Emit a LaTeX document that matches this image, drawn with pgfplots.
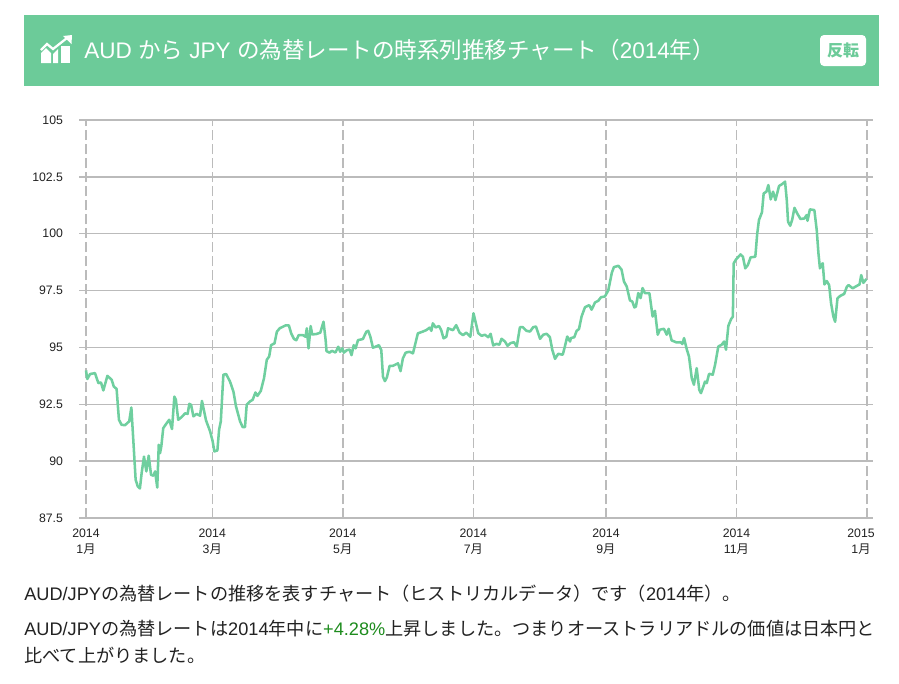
\documentclass[border=0pt]{standalone}
\usepackage{pgfplots}
\usepackage{fontspec}
\pgfplotsset{compat=1.18}
\setmainfont{Liberation Sans}
\newfontfamily\cjk{Noto Sans CJK JP}
\definecolor{bannergreen}{HTML}{6CCB99}
\definecolor{linegreen}{HTML}{6FCF9F}
\definecolor{gridgray}{HTML}{BBBBBB}
\definecolor{txt}{HTML}{222222}
\definecolor{upgreen}{HTML}{1E8C1E}
\pgfplotstableread{
day value
0 93.99
0.6 93.61
1.9 93.83
4.2 93.87
5.8 93.43
7 93.46
8.1 93.11
10 93.75
12 93.58
13 93.28
14.3 93.18
15.4 91.82
16.6 91.6
18.2 91.58
20.2 91.75
21.2 92.36
22.1 90.94
23.2 89.18
24.2 88.89
25.2 88.8
26 89.47
27.1 90.2
28.2 89.55
29.3 90.24
30.4 89.4
31.5 89.36
32.3 89.55
33.3 88.84
34 90.72
34.6 90.35
35.2 90.65
36.1 91.45
37.4 91.63
38.9 91.82
40.2 91.41
41.3 92.84
42 92.7
43.1 91.82
44.7 91.94
46.3 92.1
47.5 92.08
48.3 92.52
49.1 92.48
50.2 91.97
51.7 92.08
53.3 92
54.2 92.65
54.9 92.33
56.1 91.79
58 91.31
59.2 90.87
60 90.43
61.4 90.47
62.2 91.38
63 91.75
64.2 93.8
65.5 93.83
67.3 93.5
68.9 93.06
70.1 92.41
72 91.75
73.2 91.5
74.3 91.5
75.1 92.48
76.7 92.63
77.9 92.7
79.2 93.02
80.1 92.87
81.7 93.09
83.2 93.65
84.5 94.46
85.6 94.6
86.5 95.1
88.1 95.18
89.2 95.69
90.5 95.84
92 95.91
93.3 95.97
94.8 95.97
95.9 95.62
97.2 95.37
98.3 95.32
99.4 95.54
101.4 95.54
102.6 95.47
103.2 95.84
104 94.96
105 95.94
105.7 95.57
107.6 95.59
109.5 95.65
111 96.13
112 95.32
112.4 94.84
113.8 94.77
114.9 94.85
116.6 94.78
117.9 95.03
118.8 94.81
119.8 94.96
120.5 94.77
121.9 94.88
123.2 94.91
124.1 94.66
125.1 95.1
126 94.96
127.1 95.32
129.4 95.37
131 95.69
131.9 95.73
132.9 95.47
134.1 94.99
135.3 95.03
136.9 95.1
138 94.88
138.8 93.71
139.7 93.52
140.6 93.68
141.9 94.19
143.4 94.19
145.8 94.3
147 93.96
148.1 94.52
149.4 94.77
151.2 94.81
152.8 94.74
155.1 95.62
157.2 95.69
159 95.76
160.6 95.87
161.4 95.73
162.1 96.06
163.4 95.88
165 95.94
166 95.76
167.1 95.4
168.4 95.47
169.2 95.84
171.5 95.76
173 95.98
174.6 95.65
176.2 95.54
177.7 95.65
179.6 95.47
181.1 96.5
183.3 95.63
184.9 95.51
186.4 95.56
188 95.45
189.1 95.6
190.3 95.09
191.9 95.16
193.2 95.12
194.2 95.38
195.8 95.26
197 95.07
198.4 95.19
200 95.23
201.3 95.04
202.8 95.89
204.1 95.89
205.9 95.73
207.5 95.7
209 95.89
210.3 95.92
212.2 95.38
213.7 95.56
215.3 95.6
216.8 95.45
217.9 94.9
219.2 94.5
220.7 94.72
222.8 94.68
223.8 95.04
224.9 95.48
226.2 95.26
226.6 95.41
228.2 95.45
229.3 95.73
230.4 95.81
231.6 96.36
233.2 96.77
235.2 96.86
236.3 96.66
237.9 96.98
239.4 97.05
240.7 97.21
242.5 97.24
244.1 97.51
245.7 98.27
246.7 98.53
248.8 98.59
250.3 98.42
251.4 97.9
252.7 97.68
254.2 97.07
255.3 97.02
256.3 96.76
257 96.8
258.1 97.39
259.2 97.17
260.1 97.61
261.2 97.39
263.3 97.39
264.8 96.36
265.9 96.61
267.2 95.56
268.2 95.78
270.1 95.82
271.4 95.56
272.3 95.82
273.7 95.31
276 95.22
277.9 95.23
278.7 95.15
279.5 95.41
280.7 94.94
281.8 94.6
283.1 93.65
284.1 93.36
285.4 94.09
286.6 93.14
287.4 92.99
288.5 93.28
289.3 93.5
290.1 93.43
291.2 93.84
292.9 93.8
294 94.24
295.5 95.04
297.1 95.12
298.2 95.26
299.1 94.9
300.2 95.95
301.5 96.25
302.3 96.35
302.7 98.7
303.8 98.87
305.9 99.09
307 98.99
308.1 98.48
309.3 98.62
310.6 98.96
312.8 98.99
313.7 100.01
314.5 100.6
315.9 100.94
316.7 101.77
318 101.85
318.9 102.14
320 101.51
321.1 101.85
322.2 101.48
323.9 102.1
325.3 102.18
326.7 102.29
327.5 101.48
328.1 100.53
329.1 100.35
330 100.6
331.1 101.14
332.4 100.89
333.9 100.65
335.7 100.67
336.8 100.82
337.2 100.57
338.3 101.07
340.4 101.04
341.5 100.16
342.3 99.14
343 98.48
343.8 98.65
344.3 98.7
345.1 97.77
346.2 97.92
347.3 97.74
348.2 96.94
349.3 96.35
350.1 96.13
351.2 97.16
352.5 97.27
354.3 97.35
355.6 97.67
356.4 97.74
358.3 97.6
360.3 97.71
361.5 97.77
362.3 98.18
363.3 97.84
364.7 98.01
}\audjpy
\begin{document}
\begin{tikzpicture}
	\begin{scope}[x=0.75pt,y=-0.75pt]
	\path[use as bounding box,fill=white] (0,0) rectangle (899,683);
	% banner
	\fill[bannergreen] (24,15) rectangle (879,86);
	\fill[white,rounded corners=3pt] (820,35) rectangle (866,66);
	\node[anchor=center,text=bannergreen,font=\cjk\bfseries\fontsize{12}{14}\selectfont] at (843,50) {反転};
	\node[anchor=west,inner sep=0pt,text=white,font=\fontsize{16.9}{18}\selectfont] at (84,50)
		{AUD {\cjk から} JPY {\cjk の為替レートの時系列推移チャート（}2014{\cjk 年）}};
	% icon
	\fill[white] (41,63) -- (41,53) -- (46,48) -- (51,53) -- (51,63) -- cycle;
	\fill[white] (53,63) -- (53,54) -- (58,49) -- (58,63) -- cycle;
	\fill[white] (61,63) -- (61,46) -- (70,46) -- (70,63) -- cycle;
	\draw[white,line width=1.7pt] (41,50) -- (47,44) -- (53,49) -- (67,38);
	\fill[white] (72,35) -- (71.5,44) -- (63,36) -- cycle;
	% text
	\node[anchor=west,inner sep=0pt,text=txt,font=\fontsize{13.63}{15}\selectfont] at (24,594)
		{AUD/JPY{\cjk の為替レートの推移を表すチャート（ヒストリカルデータ）です（}2014{\cjk 年）。}};
	\node[anchor=west,inner sep=0pt,text=txt,font=\fontsize{13.63}{15}\selectfont] at (24,629)
		{AUD/JPY{\cjk の為替レートは}2014{\cjk 年中に}\textcolor{upgreen}{+4.28\%}{\cjk 上昇しました。つまりオーストラリアドルの価値は日本円と}};
	\node[anchor=west,inner sep=0pt,text=txt,font=\fontsize{13.63}{15}\selectfont] at (24,655)
		{\cjk 比べて上がりました。};
	\end{scope}
	% chart
	\begin{axis}[
		at={(59.25pt,-388.5pt)},
		anchor=south west,
		scale only axis,
		width=595.5pt,
		height=298.5pt,
		xmin=-3.27, xmax=367.8,
		ymin=87.5, ymax=105,
		axis line style={draw=none},
		major tick length=0pt,
		xtick={0,59,120,181,243,304,365},
		xticklabels={{2014\\1{\cjk 月}},{2014\\3{\cjk 月}},{2014\\5{\cjk 月}},{2014\\7{\cjk 月}},{2014\\9{\cjk 月}},{2014\\11{\cjk 月}},{\makebox[0pt][c]{\hspace*{-9pt}2015}\\\makebox[0pt][c]{\hspace*{-9pt}1{\cjk 月}}}},
		ytick={87.5,90,92.5,95,97.5,100,102.5,105},
		yticklabels={87.5,90,92.5,95,97.5,100,102.5,105},
		xticklabel style={align=center,font=\fontsize{9.2}{12}\selectfont,text=txt,yshift=-4.7pt},
		yticklabel style={font=\fontsize{9.2}{11}\selectfont,text=txt,xshift=-8.5pt},
		grid=both,
		x grid style={gridgray,line width=1.1pt,dash pattern=on 7.5pt off 3pt},
		y grid style={gridgray,line width=1.1pt},
	]
		\addplot[linegreen,line width=1.9pt,line join=round] table[x=day,y=value] {\audjpy};
	\end{axis}
\end{tikzpicture}
\end{document}
